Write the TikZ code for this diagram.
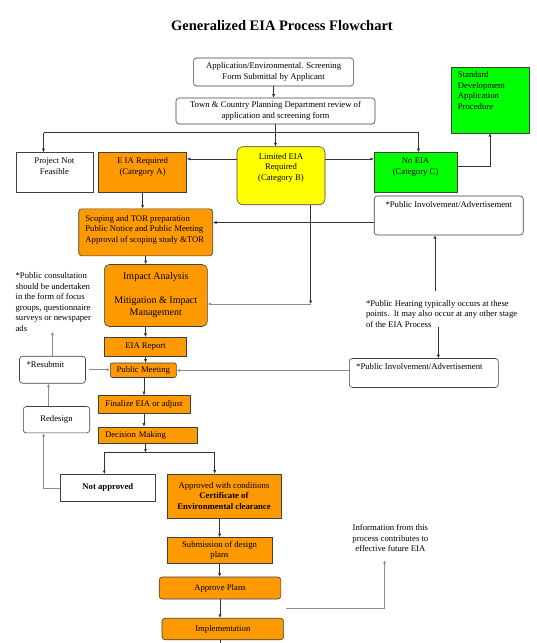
\documentclass[tikz,border=0pt]{standalone}
\usepackage{fontspec}
\setmainfont{Liberation Serif}
\usetikzlibrary{positioning,arrows.meta}
\definecolor{eiaorange}{HTML}{FF9900}
\definecolor{eiayellow}{HTML}{FFFF00}
\definecolor{eiagreen}{HTML}{00FF00}

\begin{document}
\begin{tikzpicture}[x=1pt,y=-1pt,
    font=\fontsize{8.7}{10.5}\selectfont,
    box/.style={draw=black!75, line width=0.6pt, inner sep=0pt, align=center},
    rbox/.style={box, rounded corners=3pt},
    txt/.style={inner sep=0pt, align=center},
    arrow/.style={-{Latex[length=3.5pt,width=3pt]}, black!80, line width=0.5pt},
    soft/.style={-{Latex[length=3.5pt,width=3pt]}, black!45, line width=0.6pt}]

    % Page frame
    \useasboundingbox (0,0) rectangle (537,643);
    \fill[white] (0,0) rectangle (537,643);

    % Title
    \node[txt, font=\fontsize{14.5}{17}\selectfont\bfseries] (title) at (282,26) {Generalized EIA Process Flowchart};

    % Screening
    \node[rbox, minimum width=160pt, minimum height=28pt] (app) at (273.6,72) {Application/Environmental. Screening\\Form Submittal by Applicant};
    \node[rbox, minimum width=199pt, minimum height=26pt] (town) at (275.5,111) {Town \& Country Planning Department review of\\application and screening form};

    % Categories
    \node[box, minimum width=77pt, minimum height=40pt] (notfeas) at (54.4,172.5) {};
    \node[txt, below=5.4pt of notfeas.north] (notfeasText) {Project Not\\Feasible};
    \node[box, fill=eiaorange, minimum width=88pt, minimum height=40pt] (catA) at (142.6,172.5) {};
    \node[txt, below=5.4pt of catA.north] (catAText) {E IA Required\\(Category A)};
    \node[box, fill=eiayellow, rounded corners=6pt, minimum width=88pt, minimum height=58pt] (catB) at (281,175.7) {};
    \node[txt, below=6.7pt of catB.north] (catBText) {Limited EIA\\Required\\(Category B)};
    \node[box, fill=eiagreen, minimum width=83pt, minimum height=40pt] (catC) at (415.6,172.5) {};
    \node[txt, below=5.4pt of catC.north] (catCText) {No EIA\\(Category C)};
    \node[box, fill=eiagreen, minimum width=78pt, minimum height=66pt] (standard) at (490,99.9) {};
    \node[txt, align=left, below right=4.7pt and 7pt of standard.north west] (standardText) {Standard\\Development\\Application\\Procedure};

    % Scoping and impact stage
    \node[rbox, fill=eiaorange, minimum width=134pt, minimum height=47pt] (scoping) at (145.7,232.3) {};
    \node[txt, align=left, below right=6.5pt and 6.8pt of scoping.north west] (scopingText) {Scoping and TOR preparation\\Public Notice and Public Meeting\\Approval of scoping study \&TOR};
    \node[rbox, minimum width=149pt, minimum height=39pt] (involveA) at (448.7,215.5) {};
    \node[txt, below=6pt of involveA.north] (involveAText) {*Public Involvement/Advertisement};
    \node[rbox, fill=eiaorange, rounded corners=5pt, minimum width=103pt, minimum height=62pt, font=\fontsize{10}{12}\selectfont] (impact) at (155.8,295.5) {Impact Analysis\\[12pt]Mitigation \& Impact\\Management};

    % Notes
    \node[txt, align=left, anchor=north west] (consult) at (15.4,272.6) {*Public consultation\\should be undertaken\\in the form of focus\\groups, questionnaire\\surveys or newspaper\\ads};
    \node[txt, align=left, anchor=north west] (hearing) at (365.8,300) {*Public Hearing typically occurs at these\\points.\ \ It may also occur at any other stage\\of the EIA Process};

    % Report and review
    \node[box, fill=eiaorange, minimum width=82pt, minimum height=19.5pt] (report) at (145.5,347) {EIA Report};
    \node[box, fill=eiaorange, rounded corners=2pt, minimum width=66pt, minimum height=14.5pt] (meeting) at (143.3,370.2) {Public Meeting};
    \node[rbox, minimum width=66pt, minimum height=27pt] (resubmit) at (52.5,369.7) {};
    \node[txt, below right=5.6pt and 7.2pt of resubmit.north west] (resubmitText) {*Resubmit};
    \node[rbox, minimum width=149pt, minimum height=29pt] (involveB) at (423.8,373) {};
    \node[txt, below right=5.2pt and 7pt of involveB.north west] (involveBText) {*Public Involvement/Advertisement};
    \node[box, fill=eiaorange, minimum width=92pt, minimum height=18pt] (finalize) at (144,404.5) {Finalize EIA or adjust};
    \node[box, fill=eiaorange, minimum width=99pt, minimum height=16.5pt, text width=86pt, align=left] (decision) at (148,435.2) {Decision Making};
    \node[rbox, minimum width=66.4pt, minimum height=26.4pt] (redesign) at (56.5,419.7) {Redesign};

    % Decision outcomes
    \node[box, minimum width=94.4pt, minimum height=27pt] (rejected) at (107.8,487.8) {\bfseries Not approved};
    \node[box, fill=eiaorange, minimum width=114pt, minimum height=44pt] (approved) at (224,496) {Approved with conditions\\\textbf{Certificate of}\\\textbf{Environmental clearance}};
    \node[box, fill=eiaorange, minimum width=105pt, minimum height=26pt] (submission) at (219.6,550.5) {Submission of design\\plans};
    \node[rbox, fill=eiaorange, minimum width=121.6pt, minimum height=22pt] (approveplans) at (220,588) {Approve Plans};
    \node[rbox, fill=eiaorange, minimum width=121.6pt, minimum height=21.5pt] (implement) at (222.8,629) {Implementation};
    \node[txt, anchor=north] (info) at (390.4,524.6) {Information from this\\process contributes to\\effective future EIA};

    % Helper points
    \coordinate (branchL) at (43.5,132.5);
    \coordinate (branchR) at (418.5,132.5);
    \coordinate (catBl) at ([yshift=16.7pt]catB.west);
    \coordinate (catBr) at ([yshift=16.7pt]catB.east);
    \coordinate (invAl) at ([yshift=-7pt]involveA.west);
    \coordinate (invBl) at ([yshift=2.5pt]involveB.west);
    \coordinate (limitDrop) at (310.6,304);
    \coordinate (resubOut) at ([xshift=3pt]resubmit.east);
    \coordinate (hearUpStart) at (435,291);
    \coordinate (hearDownStart) at (438.4,327);
    \coordinate (split) at (145.5,452.5);
    \coordinate (toRejected) at ([xshift=-3.5pt]rejected.north);
    \coordinate (toApproved) at ([xshift=-9.3pt]approved.north);
    \coordinate (toRedesign) at ([xshift=-13pt]redesign.south);
    \coordinate (toResubmit) at ([xshift=-4pt]resubmit.south);
    \coordinate (pageEnd) at (220,643);
    \coordinate (infoStart) at (286,608.5);
    \coordinate (infoEnd) at (384.6,560.2);

    % Screening arrows
    \draw[arrow] (app.south) -- (app.south |- town.north);
    \draw[arrow] (town.south) -- (town.south |- catB.north);
    \draw[black!80, line width=0.5pt] (branchL) -- (branchR);
    \draw[arrow] (branchL) -- (branchL |- notfeas.north);
    \draw[arrow] (branchR) -- (branchR |- catC.north);
    \draw[arrow] (catBl) -- (catBl -| catA.east);
    \draw[arrow] (catBr) -- (catBr -| catC.west);
    \draw[arrow] ([yshift=6.5pt]catC.east) -| (standard.south);

    % Scoping arrows
    \draw[arrow] (catA.south) -- (catA.south |- scoping.north);
    \draw[arrow] (invAl) -- (invAl -| scoping.east);
    \draw[arrow] (scoping.south) -- (scoping.south |- impact.north);
    \draw[arrow] (catB.south -| limitDrop) -- (limitDrop);
    \draw[soft] (limitDrop) -- (limitDrop -| impact.east);
    \draw[arrow] (hearUpStart) -- (hearUpStart |- involveA.south);
    \draw[arrow] (hearDownStart) -- (hearDownStart |- involveB.north);

    % Review arrows
    \draw[arrow] (impact.south -| report.north) -- (report.north);
    \draw[arrow] (report.south) -- (report.south |- meeting.north);
    \draw[soft] (resubOut) -- (resubOut -| meeting.west);
    \draw[soft] (invBl) -- (invBl -| meeting.east);
    \draw[soft] (resubmit.north) -- (resubmit.north |- consult.south);
    \draw[arrow] (finalize.north |- meeting.south) -- (finalize.north);
    \draw[arrow] (finalize.south) -- (finalize.south |- decision.north);
    \draw[arrow] (decision.south -| split) -- (split);
    \draw[arrow] (split) -| (toRejected);
    \draw[arrow] (split) -| (toApproved);
    \draw[soft] (rejected.west) -| (toRedesign);
    \draw[soft] (redesign.north -| toResubmit) -- (toResubmit);

    % Approval arrows
    \draw[arrow] (approved.south -| submission.north) -- (submission.north);
    \draw[arrow] (submission.south) -- (submission.south |- approveplans.north);
    \draw[arrow] (approveplans.south) -- (approveplans.south |- implement.north);
    \draw[black!80, line width=0.5pt] (implement.south -| pageEnd) -- (pageEnd);
    \draw[soft] (infoStart) -| (infoEnd);
\end{tikzpicture}
\end{document}
